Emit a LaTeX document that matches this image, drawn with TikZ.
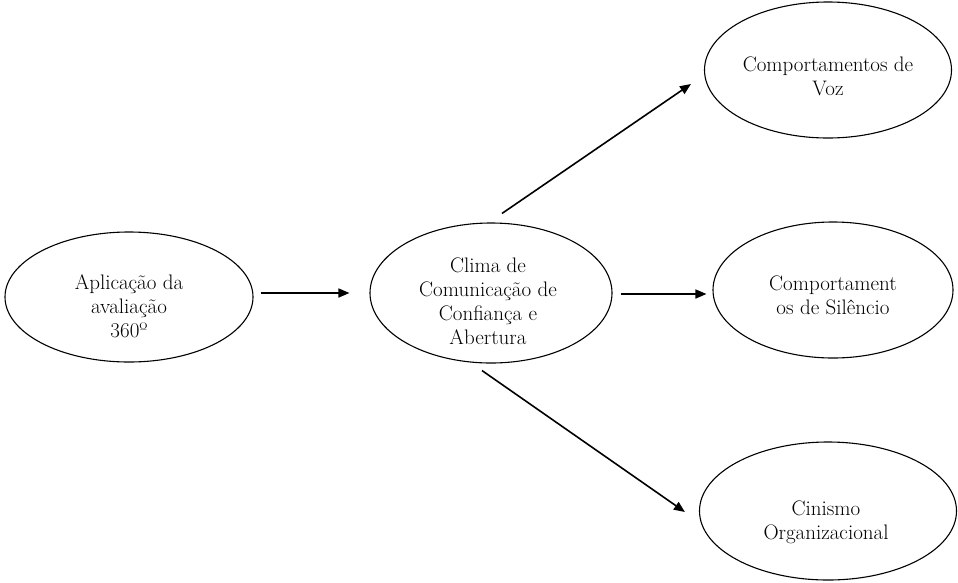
\documentclass[tikz,border=0pt]{standalone}
\usepackage{fontspec}
\usetikzlibrary{shapes.geometric,arrows.meta,calc}
\begin{document}
\begin{tikzpicture}[x=1pt,y=-1pt,
  oval/.style={draw,ellipse,line width=1.1pt,inner sep=0pt},
  label/.style={align=center,font=\fontsize{21}{24}\selectfont,inner sep=0pt},
  arr/.style={line width=1.6pt,-{Triangle[length=11pt,width=9pt]}}]
\useasboundingbox (0,0) rectangle (958,582);

% variables
\node[oval,minimum width=248,minimum height=130] (app) at (129,297) {};
\node[oval,minimum width=242,minimum height=140] (clima) at (491,293) {};
\node[oval,minimum width=247,minimum height=136] (voz) at (828,70) {};
\node[oval,minimum width=240,minimum height=136] (sil) at (833,290) {};
\node[oval,minimum width=257,minimum height=138] (cin) at (828,511) {};

% labels
\node[label] (tapp) at (129,306) {Aplicação da\\avaliação\\360º};
\node[label] (tclima) at (488,301) {Clima de\\Comunicação de\\Confiança e\\Abertura};
\node[label] (tvoz) at (828,76) {Comportamentos de\\Voz};
\node[label] (tsil) at (833,295) {Comportament\\os de Silêncio};
\node[label] (tcin) at (826,522) {Cinismo\\Organizacional};

% paths
\draw[arr] ($(app.east)+(7,-4)$) -- ($(clima.west)+(-20,0)$);
\draw[arr] ($(clima.north)+(11,-9)$) -- ($(voz.west)+(-13,14)$);
\draw[arr] ($(clima.east)+(8,1)$) -- ($(sil.west)+(-6,4)$);
\draw[arr] ($(clima.south)+(-9,7)$) -- ($(cin.west)+(-14,1)$);
\end{tikzpicture}
\end{document}
